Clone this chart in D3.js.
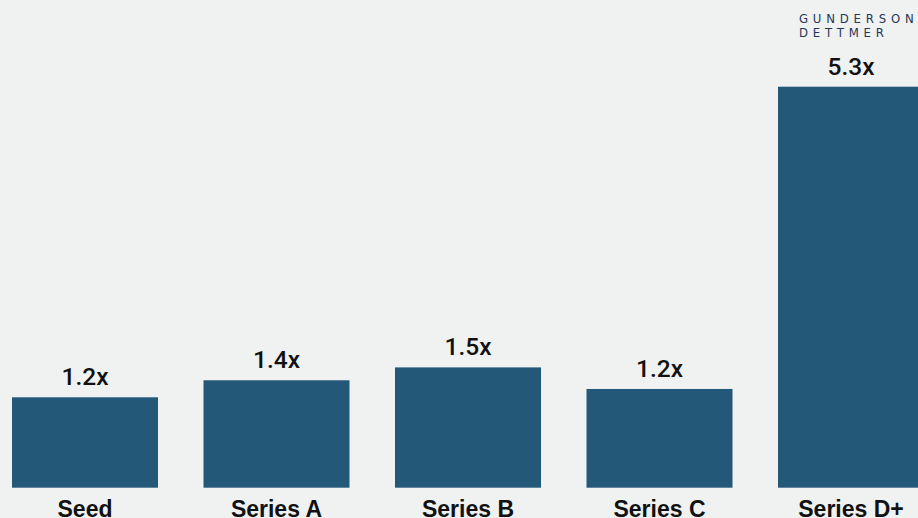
<!DOCTYPE html>
<html>
<head>
<meta charset="utf-8">
<script src="https://cdn.jsdelivr.net/npm/d3@7"></script>
<style>
  body { margin:0; background:#eff2f1; }
  #canvas { width:918px; height:518px; overflow:hidden; }
</style>
</head>
<body>
<div id="canvas" class="canvas"></div>
<script>
// data (bar heights are estimated, labels are as printed)
var categories = ['Seed','Series A','Series B','Series C','Series D+'];
var multiples = [1.195, 1.42, 1.59, 1.305, 5.3];
var valueLabels = ['1.2x','1.4x','1.5x','1.2x','5.3x'];

var outerWidth = 918, outerHeight = 518;
var base = 487.7; // y of bar bottoms

var svg = d3.select('.canvas')
    .append('svg')
    .attr('width', outerWidth)
    .attr('height', outerHeight);

svg.append('rect')
    .attr('width', outerWidth)
    .attr('height', outerHeight)
    .attr('fill', '#eff2f1');

var scaleX = d3.scaleBand()
    .domain(categories)
    .range([12, 924])
    .paddingInner(0.2376)
    .paddingOuter(0);

var scaleY = d3.scaleLinear()
    .domain([0, 5.3])
    .range([base, 86.7]);

var bars = svg.selectAll('.bar')
    .data(categories)
    .enter()
    .append('g')
    .attr('class', 'bar');

bars.append('rect')
    .attr('x', function(d){ return scaleX(d); })
    .attr('y', function(d, i){ return scaleY(multiples[i]); })
    .attr('width', scaleX.bandwidth())
    .attr('height', function(d, i){ return base - scaleY(multiples[i]); })
    .attr('fill', '#245878');

//value labels above bars
bars.append('text')
    .attr('x', function(d){ return scaleX(d) + scaleX.bandwidth()/2; })
    .attr('y', function(d, i){ return scaleY(multiples[i]) - 12; })
    .attr('text-anchor', 'middle')
    .style('font-family', 'Roboto, "Liberation Sans", sans-serif')
    .style('font-weight', 500)
    .style('font-size', '24.5px')
    .style('fill', '#111')
    .text(function(d, i){ return valueLabels[i]; });

//category labels (cut at the bottom edge like the original)
bars.append('text')
    .attr('x', function(d){ return scaleX(d) + scaleX.bandwidth()/2; })
    .attr('y', 517)
    .attr('text-anchor', 'middle')
    .style('font-family', '"Liberation Sans", Arial, sans-serif')
    .style('font-weight', 700)
    .style('font-size', '23px')
    .style('fill', '#111')
    .text(function(d){ return d; });

//logo
var logo = svg.append('g')
    .style('font-family', '"DejaVu Sans Condensed", "Liberation Sans Narrow", sans-serif')
    .style('font-size', '13px')
    .style('letter-spacing', '4.8px')
    .style('fill', '#26365a');
logo.append('text').attr('x', 799).attr('y', 23).text('GUNDERSON');
logo.append('text').attr('x', 799).attr('y', 37).text('DETTMER');
</script>
</body>
</html>
